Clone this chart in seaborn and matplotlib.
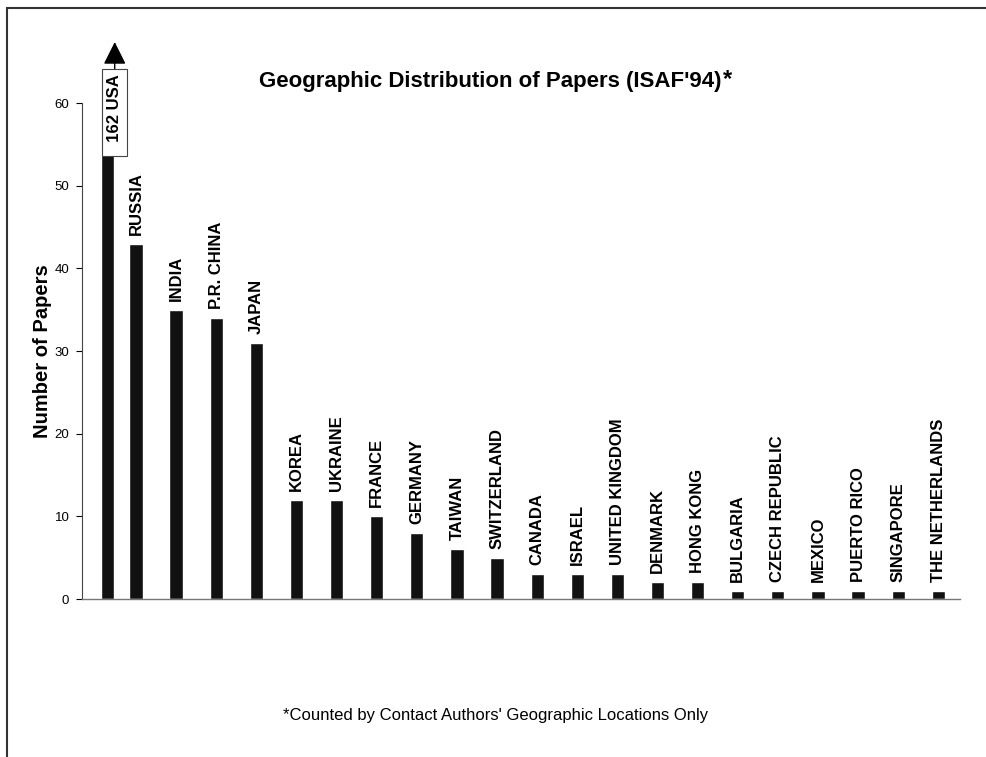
import numpy as np
import pandas as pd
import matplotlib
matplotlib.use("Agg")
import matplotlib.pyplot as plt
import seaborn as sns
from matplotlib.patches import Rectangle

countries = ["USA", "RUSSIA", "INDIA", "P.R. CHINA", "JAPAN", "KOREA", "UKRAINE",
             "FRANCE", "GERMANY", "TAIWAN", "SWITZERLAND", "CANADA", "ISRAEL",
             "UNITED KINGDOM", "DENMARK", "HONG KONG", "BULGARIA", "CZECH REPUBLIC",
             "MEXICO", "PUERTO RICO", "SINGAPORE", "THE NETHERLANDS"]
papers = [162, 43, 35, 34, 31, 12, 12, 10, 8, 6, 5, 3, 3, 3, 2, 2, 1, 1, 1, 1, 1, 1]
y_ticks = [0, 10, 20, 30, 40, 50, 60]
y_top = 60

sns.set_theme(style="white")
plt.rcParams["font.family"] = ["Liberation Sans", "DejaVu Sans"]
plt.rcParams["text.color"] = "black"
plt.rcParams["axes.labelcolor"] = "black"
plt.rcParams["ytick.color"] = "black"

df = pd.DataFrame({"country": countries, "papers": papers})
# the USA bar runs off the chart, so it is cut at the top of the axis
df["shown"] = np.minimum(df["papers"], y_top + 0.5)

fig = plt.figure(figsize=(9.86, 7.57), dpi=100)
ax = fig.add_axes([0.083, 0.2087, 0.891, 0.655])

sns.barplot(data=df, x="country", y="shown", color="#111111", width=0.33,
            saturation=1, ax=ax)

# in the original the USA bar sits a little closer to RUSSIA
usa_shift = 0.29
ax.patches[0].set_x(ax.patches[0].get_x() + usa_shift)

ax.set_ylim(0, y_top)
ax.set_xlim(-0.35, len(countries) - 0.45)
ax.set_yticks(y_ticks)
ax.tick_params(axis="y", labelsize=9.5, length=4, width=0.8, direction="out",
               left=True, pad=5)
ax.set_xticks([])
ax.set_xlabel("")
ax.set_ylabel("Number of Papers", fontsize=14.5, fontweight="bold")
ax.yaxis.set_label_coords(-0.034, 0.5)
for s in ["top", "right"]:
    ax.spines[s].set_visible(False)
ax.spines["left"].set_color("#444444")
ax.spines["left"].set_linewidth(0.8)
ax.spines["bottom"].set_color("#777777")
ax.spines["bottom"].set_linewidth(1.0)

# country names above the bars
for i, (name, val) in enumerate(zip(countries, papers)):
    if name == "USA":
        continue
    ax.text(i, val + 1.1, name, rotation=90, ha="center", va="bottom",
            fontsize=12, fontweight="bold")

# USA: boxed label and arrow above the clipped bar
usa_x = countries.index("USA") + usa_shift + 0.18
ax.annotate("", xy=(usa_x, 67.4), xytext=(usa_x, 64.0),
            arrowprops=dict(arrowstyle="-|>,head_length=14,head_width=7",
                            mutation_scale=1, color="black", lw=1.0,
                            shrinkA=0, shrinkB=0),
            annotation_clip=False)
ax.text(usa_x, 58.85, f"  {papers[0]} USA", rotation=90, ha="center", va="center",
        fontsize=12, fontweight="bold", clip_on=False,
        bbox=dict(boxstyle="square,pad=0.3", fc="white", ec="#444444", lw=0.8))

title = fig.text(0.497, 0.885, "Geographic Distribution of Papers (ISAF'94)",
                 ha="center", va="baseline", fontsize=16, fontweight="bold")
ax.annotate("*", xy=(1, 1), xycoords=title, xytext=(1, 2),
            textcoords="offset points", ha="left", va="top",
            fontsize=17, fontweight="bold", annotation_clip=False)
fig.text(0.503, 0.049, "*Counted by Contact Authors' Geographic Locations Only",
         ha="center", va="baseline", fontsize=12)

# page frame (top and left edges show in the scan)
fig.patches.append(Rectangle((0.007, -0.01), 1.0, 0.9994, transform=fig.transFigure,
                             fill=False, ec="#333333", lw=1.5))

fig.savefig("out.png", dpi=100)
